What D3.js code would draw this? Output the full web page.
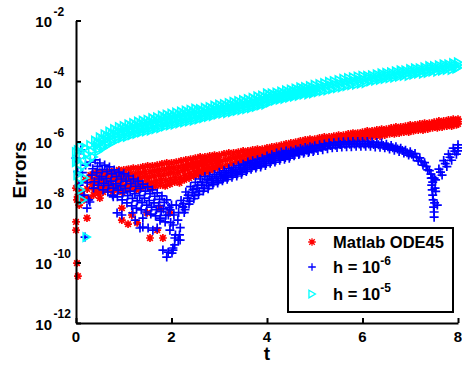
<!DOCTYPE html>
<html>
<head>
<meta charset="utf-8">
<script src="https://cdn.jsdelivr.net/npm/d3@7"></script>
<style>
  html, body { margin: 0; padding: 0; background: #fff; }
  svg { display: block; font-family: "Liberation Sans", Arial, Helvetica, sans-serif; font-weight: bold; }
</style>
</head>
<body>
<svg id="chart" width="462" height="366"></svg>
<script>
// Errors of three solvers over t in [0, 8], stored as log10(error).
// Each run is sampled on a 0.1 grid; "Hi", "Mid" and "Lo" hold the upper,
// middle and lower parts of each noisy band, the "Fill" arrays the extra
// samples inside the wide early part of a band.
const tStep = 0.1;
const tGrid = d3.range(81).map(i => Math.round(i * tStep * 100) / 100);

const yTickExps = [-12, -10, -8, -6, -4, -2];
const xTicks = [0, 2, 4, 6, 8];
const seriesNames = ["Matlab ODE45", "h = 10", "h = 10"];
const seriesSup = ["", "-6", "-5"];

// ---- Matlab ODE45 (red asterisks) ----
const ode45HiLog = [
  -7.54, -7.70, -7.27, -7.11, -7.04, -7.01, -7.01, -6.98, -6.98, -6.94,
  -6.94, -6.91, -6.88, -6.88, -6.84, -6.81, -6.81, -6.78, -6.74, -6.71,
  -6.71, -6.68, -6.64, -6.61, -6.58, -6.55, -6.51, -6.51, -6.48, -6.45,
  -6.45, -6.41, -6.38, -6.38, -6.35, -6.31, -6.31, -6.28, -6.25, -6.25,
  -6.21, -6.18, -6.15, -6.12, -6.08, -6.05, -6.02, -5.98, -5.95, -5.92,
  -5.92, -5.88, -5.85, -5.85, -5.82, -5.79, -5.79, -5.75, -5.72, -5.72,
  -5.69, -5.65, -5.65, -5.62, -5.59, -5.59, -5.55, -5.52, -5.52, -5.49,
  -5.45, -5.45, -5.42, -5.39, -5.39, -5.36, -5.32, -5.32, -5.29, -5.26,
  -5.26
];
const ode45MidLog = [
  -7.82, -7.81, -7.57, -7.42, -7.35, -7.32, -7.29, -7.30, -7.27, -7.28,
  -7.27, -7.23, -7.24, -7.21, -7.16, -7.18, -7.14, -7.11, -7.11, -7.06,
  -7.03, -7.03, -6.96, -6.91, -6.86, -6.83, -6.78, -6.76, -6.71, -6.67,
  -6.65, -6.60, -6.56, -6.53, -6.50, -6.46, -6.43, -6.40, -6.37, -6.35,
  -6.31, -6.28, -6.25, -6.22, -6.18, -6.15, -6.12, -6.08, -6.05, -6.02,
  -6.02, -5.98, -5.95, -5.94, -5.92, -5.89, -5.87, -5.85, -5.82, -5.80,
  -5.79, -5.75, -5.74, -5.72, -5.69, -5.67, -5.65, -5.62, -5.61, -5.59,
  -5.55, -5.54, -5.52, -5.49, -5.47, -5.46, -5.42, -5.41, -5.39, -5.36,
  -5.34
];
const ode45LoLog = [
  -8.10, -7.93, -7.87, -7.77, -7.70, -7.67, -7.60, -7.67, -7.60, -7.67,
  -7.60, -7.54, -7.60, -7.54, -7.47, -7.54, -7.47, -7.44, -7.47, -7.41,
  -7.34, -7.37, -7.27, -7.21, -7.14, -7.11, -7.04, -7.01, -6.94, -6.88,
  -6.84, -6.78, -6.74, -6.68, -6.64, -6.61, -6.55, -6.51, -6.48, -6.45,
  -6.41, -6.38, -6.35, -6.31, -6.28, -6.25, -6.21, -6.18, -6.15, -6.12,
  -6.12, -6.08, -6.05, -6.02, -6.02, -5.98, -5.95, -5.95, -5.92, -5.88,
  -5.88, -5.85, -5.82, -5.82, -5.79, -5.75, -5.75, -5.72, -5.69, -5.69,
  -5.65, -5.62, -5.62, -5.59, -5.55, -5.55, -5.52, -5.49, -5.49, -5.45,
  -5.42
];
// fill samples for t = 0.3 ... 2.9
const ode45FillUpLog = [
  -7.26, -7.19, -7.16, -7.15, -7.14, -7.12, -7.11, -7.10, -7.07, -7.06,
  -7.04, -7.00, -7.00, -6.97, -6.94, -6.92, -6.88, -6.87, -6.85, -6.80,
  -6.76, -6.72, -6.69, -6.65, -6.63, -6.60, -6.56
];
const ode45FillDownLog = [
  -7.60, -7.52, -7.50, -7.45, -7.48, -7.44, -7.47, -7.44, -7.39, -7.42,
  -7.38, -7.32, -7.36, -7.30, -7.28, -7.29, -7.24, -7.19, -7.20, -7.12,
  -7.06, -7.00, -6.97, -6.91, -6.88, -6.83, -6.78
];
const ode45ExtraT = [
  0.00, 0.00, 0.23, 0.02, 0.04, 0.08, 0.50, 0.96, 0.96, 1.09,
  1.17, 1.55, 1.82, 1.49, 1.76, 1.97, 1.70, 1.28, 0.02, 0.05
];
const ode45ExtraLog = [
  -8.66, -8.93, -8.53, -10.02, -10.45, -7.67, -7.87, -8.20, -8.60, -8.73,
  -8.43, -9.19, -9.19, -8.36, -8.20, -8.36, -8.93, -8.69, -7.93, -7.44
];

// ---- h = 1e-6 (blue plus signs) ----
const h6HiLog = [
  -6.55, -6.28, -6.78, -6.68, -6.61, -6.71, -6.78, -6.84, -6.94, -7.01,
  -7.07, -7.14, -7.24, -7.31, -7.41, -7.50, -7.60, -7.70, -7.80, -7.93,
  -8.10, -8.10, -7.95, -7.67, -7.49, -7.35, -7.24, -7.16, -7.15, -7.09,
  -7.02, -6.97, -6.90, -6.86, -6.80, -6.75, -6.68, -6.64, -6.60, -6.55,
  -6.48, -6.44, -6.38, -6.35, -6.31, -6.31, -6.27, -6.23, -6.20, -6.17,
  -6.14, -6.11, -6.08, -6.05, -6.04, -6.02, -6.01, -6.01, -6.00, -6.00,
  -6.00, -6.00, -6.02, -6.03, -6.05, -6.09, -6.13, -6.17, -6.22, -6.29,
  -6.34, -6.40, -6.54, -6.70, -6.96, -7.21, -6.91, -6.63, -6.42, -6.22,
  -6.11
];
const h6MidLog = [
  -7.00, -7.03, -7.36, -7.11, -7.03, -7.16, -7.23, -7.31, -7.39, -7.47,
  -7.55, -7.64, -7.72, -7.79, -7.87, -7.95, -8.03, -8.12, -8.23, -8.43,
  -8.76, -8.60, -8.15, -7.87, -7.69, -7.55, -7.44, -7.36, -7.29, -7.23,
  -7.16, -7.11, -7.04, -7.00, -6.94, -6.87, -6.80, -6.76, -6.72, -6.67,
  -6.60, -6.56, -6.50, -6.47, -6.43, -6.39, -6.35, -6.31, -6.28, -6.25,
  -6.22, -6.19, -6.16, -6.13, -6.12, -6.10, -6.09, -6.09, -6.08, -6.08,
  -6.08, -6.08, -6.10, -6.11, -6.13, -6.17, -6.21, -6.25, -6.30, -6.37,
  -6.42, -6.52, -6.66, -6.82, -7.08, -7.65, -7.01, -6.73, -6.52, -6.32,
  -6.21
];
const h6LoLog = [
  -7.44, -7.77, -7.93, -7.54, -7.44, -7.60, -7.67, -7.77, -7.83, -7.93,
  -8.03, -8.13, -8.20, -8.26, -8.33, -8.40, -8.46, -8.53, -8.66, -8.93,
  -9.42, -9.09, -8.35, -8.07, -7.89, -7.75, -7.64, -7.56, -7.43, -7.37,
  -7.30, -7.25, -7.18, -7.14, -7.08, -6.99, -6.92, -6.88, -6.84, -6.79,
  -6.72, -6.68, -6.62, -6.59, -6.55, -6.47, -6.43, -6.39, -6.36, -6.33,
  -6.30, -6.27, -6.24, -6.21, -6.20, -6.18, -6.17, -6.17, -6.16, -6.16,
  -6.16, -6.16, -6.18, -6.19, -6.21, -6.25, -6.29, -6.33, -6.38, -6.45,
  -6.50, -6.64, -6.78, -6.94, -7.20, -8.10, -7.11, -6.83, -6.62, -6.42,
  -6.31
];
// fill samples for t = 0.3 ... 4.9
const h6FillUpLog = [
  -6.90, -6.82, -6.93, -7.00, -7.07, -7.16, -7.24, -7.31, -7.39, -7.48,
  -7.55, -7.64, -7.72, -7.81, -7.91, -8.01, -8.18, -8.43, -8.35, -8.05,
  -7.77, -7.59, -7.45, -7.34, -7.26, -7.22, -7.16, -7.09, -7.04, -6.97,
  -6.93, -6.87, -6.81, -6.74, -6.70, -6.66, -6.61, -6.54, -6.50, -6.44,
  -6.41, -6.37, -6.35, -6.31, -6.27, -6.24, -6.21
];
const h6FillDownLog = [
  -7.33, -7.24, -7.38, -7.45, -7.54, -7.61, -7.70, -7.79, -7.88, -7.96,
  -8.02, -8.10, -8.17, -8.25, -8.32, -8.44, -8.68, -9.09, -8.85, -8.25,
  -7.97, -7.79, -7.65, -7.54, -7.46, -7.36, -7.30, -7.23, -7.18, -7.11,
  -7.07, -7.01, -6.93, -6.86, -6.82, -6.78, -6.73, -6.66, -6.62, -6.56,
  -6.53, -6.49, -6.43, -6.39, -6.35, -6.32, -6.29
];
const h6ExtraT = [
  0.19, 0.23, 0.29, 0.86, 0.96, 1.24, 0.78, 1.34, 1.51, 1.70,
  1.76, 1.82, 1.93, 2.03, 2.07, 2.14, 1.90, 1.40, 1.19, 1.40,
  1.61, 2.03, 2.18, 1.97, 2.24, 2.01,
  7.46, 7.47, 7.48, 7.49, 7.50, 7.50, 7.51, 7.52, 7.45, 7.53,
  7.44, 7.47
];
const h6ExtraLog = [
  -9.16, -8.20, -8.00, -8.36, -8.43, -8.60, -7.83, -8.86, -8.86, -8.86,
  -8.60, -9.59, -9.66, -9.59, -9.19, -9.26, -9.82, -8.53, -8.36, -8.83,
  -8.93, -9.52, -9.26, -8.26, -8.17, -9.69,
  -7.60, -7.77, -7.93, -8.17, -8.33, -8.50, -8.03, -7.54, -7.44, -7.27,
  -7.21, -7.34
];

// ---- h = 1e-5 (cyan triangles) ----
const h5HiLog = [
  -6.35, -6.15, -6.21, -6.12, -5.97, -5.86, -5.76, -5.67, -5.59, -5.52,
  -5.49, -5.43, -5.39, -5.34, -5.31, -5.28, -5.23, -5.20, -5.14, -5.11,
  -5.08, -5.04, -5.01, -4.98, -4.95, -4.91, -4.93, -4.89, -4.86, -4.81,
  -4.78, -4.76, -4.73, -4.69, -4.66, -4.63, -4.60, -4.56, -4.51, -4.48,
  -4.41, -4.41, -4.38, -4.35, -4.31, -4.28, -4.25, -4.21, -4.20, -4.17,
  -4.13, -4.10, -4.07, -4.03, -4.00, -3.97, -3.93, -3.90, -3.88, -3.85,
  -3.83, -3.83, -3.81, -3.78, -3.75, -3.73, -3.71, -3.68, -3.65, -3.65,
  -3.61, -3.58, -3.58, -3.55, -3.51, -3.51, -3.48, -3.45, -3.45, -3.41,
  -3.38
];
const h5MidLog = [
  -6.65, -6.48, -6.43, -6.32, -6.15, -6.04, -5.94, -5.85, -5.77, -5.70,
  -5.67, -5.61, -5.57, -5.52, -5.49, -5.46, -5.41, -5.38, -5.32, -5.29,
  -5.26, -5.22, -5.19, -5.16, -5.13, -5.09, -5.08, -5.04, -5.01, -4.96,
  -4.93, -4.91, -4.88, -4.84, -4.81, -4.78, -4.75, -4.71, -4.66, -4.63,
  -4.56, -4.53, -4.50, -4.47, -4.43, -4.40, -4.37, -4.33, -4.32, -4.29,
  -4.25, -4.22, -4.19, -4.15, -4.12, -4.09, -4.05, -4.02, -4.00, -3.97,
  -3.95, -3.92, -3.90, -3.87, -3.84, -3.82, -3.80, -3.77, -3.74, -3.74,
  -3.70, -3.67, -3.67, -3.64, -3.60, -3.60, -3.57, -3.54, -3.54, -3.50,
  -3.47
];
const h5LoLog = [
  -6.94, -6.81, -6.64, -6.51, -6.33, -6.22, -6.12, -6.03, -5.95, -5.88,
  -5.85, -5.79, -5.75, -5.70, -5.67, -5.64, -5.59, -5.56, -5.50, -5.47,
  -5.44, -5.40, -5.37, -5.34, -5.31, -5.27, -5.23, -5.19, -5.16, -5.11,
  -5.08, -5.06, -5.03, -4.99, -4.96, -4.93, -4.90, -4.86, -4.81, -4.78,
  -4.71, -4.65, -4.62, -4.59, -4.55, -4.52, -4.49, -4.45, -4.44, -4.41,
  -4.37, -4.34, -4.31, -4.27, -4.24, -4.21, -4.17, -4.14, -4.12, -4.09,
  -4.07, -4.01, -3.99, -3.96, -3.93, -3.91, -3.89, -3.86, -3.83, -3.83,
  -3.79, -3.76, -3.76, -3.73, -3.69, -3.69, -3.66, -3.63, -3.63, -3.59,
  -3.56
];
// fill samples for t = 0.4 ... 4.9
const h5FillUpLog = [
  -6.06, -5.95, -5.85, -5.76, -5.68, -5.61, -5.58, -5.52, -5.48, -5.43,
  -5.40, -5.37, -5.32, -5.29, -5.23, -5.20, -5.17, -5.13, -5.10, -5.07,
  -5.04, -5.00, -5.00, -4.96, -4.93, -4.88, -4.85, -4.83, -4.80, -4.76,
  -4.73, -4.70, -4.67, -4.63, -4.58, -4.55, -4.48, -4.47, -4.44, -4.41,
  -4.37, -4.34, -4.31, -4.27, -4.26, -4.23
];
const h5FillDownLog = [
  -6.24, -6.13, -6.03, -5.94, -5.86, -5.79, -5.76, -5.70, -5.66, -5.61,
  -5.58, -5.55, -5.50, -5.47, -5.41, -5.38, -5.35, -5.31, -5.28, -5.25,
  -5.22, -5.18, -5.15, -5.11, -5.08, -5.03, -5.00, -4.98, -4.95, -4.91,
  -4.88, -4.85, -4.82, -4.78, -4.73, -4.70, -4.63, -4.59, -4.56, -4.53,
  -4.49, -4.46, -4.43, -4.39, -4.38, -4.35
];
const h5ExtraT = [0.00, 0.03, 0.06, 0.10, 0.14, 0.04, 0.22, 0.18];
const h5ExtraLog = [-6.68, -7.11, -7.37, -7.60, -7.93, -6.28, -9.16, -7.21];

const margin = { left: 76, right: 458, top: 20.5, bottom: 323 };
const svg = d3.select("#chart");

const x = d3.scaleLinear().domain([0, 8]).range([margin.left, margin.right]);
const y = d3.scaleLog().domain([1e-12, 1e-2]).range([margin.bottom, margin.top]);

// a row of band samples starting at grid index `start`, shifted by `shift` steps
function row(vals, start, shift) {
  return vals.map((e, i) => ({ t: Math.min(tGrid[start + i] + shift * tStep, 8), v: 10 ** e }));
}
function scatter(ts, vals) {
  return ts.map((t, i) => ({ t, v: 10 ** vals[i] }));
}

const series = [
  {
    pts: [].concat(
      row(ode45HiLog, 0, 0), row(ode45FillUpLog, 3, 0.5), row(ode45MidLog, 0, 1 / 3),
      row(ode45FillDownLog, 3, 0.83), row(ode45LoLog, 0, 2 / 3),
      scatter(ode45ExtraT, ode45ExtraLog)),
    color: "#ff0000", shape: "star", r: 3.9
  },
  {
    pts: [].concat(
      row(h6HiLog, 0, 0), row(h6FillUpLog, 3, 0.5), row(h6MidLog, 0, 1 / 3),
      row(h6FillDownLog, 3, 0.83), row(h6LoLog, 0, 2 / 3),
      scatter(h6ExtraT, h6ExtraLog)),
    color: "#0000ff", shape: "plus", r: 4.5
  },
  {
    pts: [].concat(
      row(h5HiLog, 0, 0), row(h5FillUpLog, 4, 0.5), row(h5MidLog, 0, 1 / 3),
      row(h5FillDownLog, 4, 0.83), row(h5LoLog, 0, 2 / 3),
      scatter(h5ExtraT, h5ExtraLog)),
    color: "#00ffff", shape: "tri", r: 4.1
  }
];
series.forEach(s => s.pts.sort((a, b) => a.t - b.t));

// marker shapes, centred at 0,0
const markerPath = {
  star: r => {
    const d = r * 0.72;
    return `M${-r},0H${r}M0,${-r}V${r}M${-d},${-d}L${d},${d}M${-d},${d}L${d},${-d}`;
  },
  plus: r => `M${-r},0H${r}M0,${-r}V${r}`,
  tri: r => `M${-r * 0.8},${-r}L${r * 0.9},0L${-r * 0.8},${r}Z`
};

const plot = svg.append("g");
series.forEach(s => {
  plot.append("g")
    .selectAll("path")
    .data(s.pts)
    .join("path")
    .attr("transform", d => `translate(${x(d.t)},${y(d.v)})`)
    .attr("d", markerPath[s.shape](s.r))
    .attr("fill", "none")
    .attr("stroke", s.color)
    .attr("stroke-width", 1.7);
});

// axes: left and bottom only, ticks pointing inward
const yTickVals = yTickExps.map(k => 10 ** k);
const yAxis = svg.append("g")
  .attr("transform", `translate(${margin.left},0)`)
  .call(d3.axisLeft(y).tickValues(yTickVals).tickSize(-5).tickSizeOuter(0).tickFormat(""));
const xAxis = svg.append("g")
  .attr("transform", `translate(0,${margin.bottom})`)
  .call(d3.axisBottom(x).tickValues(xTicks).tickSize(-5).tickSizeOuter(0).tickFormat(""));
[yAxis, xAxis].forEach(a => {
  a.select(".domain").attr("stroke", "#000").attr("stroke-width", 2);
  a.selectAll(".tick line").attr("stroke", "#000").attr("stroke-width", 2);
});

// y tick labels as 10 with a superscript exponent
yTickExps.forEach(k => {
  const ty = y(10 ** k);
  svg.append("text")
    .attr("x", 52).attr("y", ty + 6.5)
    .attr("text-anchor", "end")
    .attr("font-size", 15)
    .text("10");
  svg.append("text")
    .attr("x", 53.5).attr("y", ty - 5)
    .attr("font-size", 12)
    .text("-" + Math.abs(k));
});

// x tick labels
xTicks.forEach(v => {
  svg.append("text")
    .attr("x", x(v)).attr("y", 342)
    .attr("text-anchor", "middle")
    .attr("font-size", 15)
    .text(v);
});

// axis titles
svg.append("text")
  .attr("x", x(4)).attr("y", 360)
  .attr("text-anchor", "middle")
  .attr("font-size", 19)
  .text("t");
svg.append("text")
  .attr("transform", `translate(26,170) rotate(-90)`)
  .attr("text-anchor", "middle")
  .attr("font-size", 19)
  .text("Errors");

// legend
const legend = svg.append("g").attr("transform", "translate(288,228)");
legend.append("rect")
  .attr("width", 165).attr("height", 84)
  .attr("fill", "#fff").attr("stroke", "#000").attr("stroke-width", 2);
const rows = [14, 39, 66];
series.forEach((s, i) => {
  legend.append("path")
    .attr("transform", `translate(24,${rows[i]})`)
    .attr("d", markerPath[s.shape](3.8))
    .attr("fill", "none").attr("stroke", s.color).attr("stroke-width", 1.3);
  const txt = legend.append("text")
    .attr("x", 45).attr("y", rows[i] + 6)
    .attr("font-size", 16.5)
    .text(seriesNames[i]);
  if (seriesSup[i]) {
    txt.append("tspan").attr("dy", -8).attr("font-size", 12).text(seriesSup[i]);
  }
});
</script>
</body>
</html>
